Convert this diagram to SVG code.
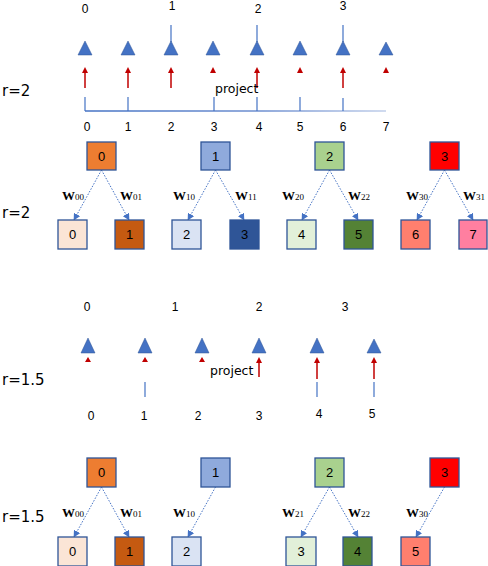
<svg xmlns="http://www.w3.org/2000/svg" width="488" height="566" viewBox="0 0 488 566">
<defs>
<style>
.t{font-family:"Liberation Sans",Arial,sans-serif;font-size:12px;fill:#000}
.big{font-family:"DejaVu Sans",Verdana,sans-serif;font-size:15px;fill:#000}
.proj{font-family:"DejaVu Sans",Verdana,sans-serif;font-size:12.5px;fill:#000}
.bn{font-family:"Liberation Sans",Arial,sans-serif;font-size:13px;fill:#000;text-anchor:middle}
.w{font-family:"Liberation Serif","Times New Roman",serif;font-size:13px;font-weight:bold;fill:#000}
.w tspan{font-size:9px;font-weight:normal}
.tri{fill:#4472C4;stroke:#2F5597;stroke-width:0.5}
.red{stroke:#C00000;stroke-width:1.5;fill:none}
.rh{fill:#C00000}
.bl{stroke:#4472C4;stroke-width:1.2;fill:none}
.box{stroke:#2F5597;stroke-width:1.3}
.con{stroke:#4472C4;stroke-width:1;stroke-dasharray:1.5 1.5;fill:none;marker-end:url(#ah)}
</style>
<marker id="ah" viewBox="0 0 10 10" refX="9" refY="5" markerWidth="7" markerHeight="7" markerUnits="userSpaceOnUse" orient="auto">
<path d="M0,0 L10,5 L0,10 z" fill="#4472C4"/>
</marker>
<linearGradient id="lg" x1="85" y1="0" x2="440" y2="0" gradientUnits="userSpaceOnUse">
<stop offset="0" stop-color="#4472C4"/>
<stop offset="0.5" stop-color="#6E8FD0"/>
<stop offset="1" stop-color="#E4EAF5"/>
</linearGradient>
</defs>

<!-- Section 1: r=2 projection -->
<g id="sec1">
<text class="big" x="2" y="96">r=2</text>
<g class="t" text-anchor="middle">
<text x="85" y="13">0</text><text x="172" y="10">1</text><text x="258" y="13">2</text><text x="343" y="10">3</text>
</g>
<g class="bl">
<line x1="171" y1="25" x2="171" y2="42"/><line x1="257" y1="25" x2="257" y2="42"/><line x1="343" y1="25" x2="343" y2="42"/>
</g>
<g class="tri">
<polygon points="85,41 78,55 92,55"/><polygon points="128,41 121,55 135,55"/><polygon points="171,41 164,55 178,55"/><polygon points="213,41 206,55 220,55"/>
<polygon points="257,41 250,55 264,55"/><polygon points="300,41 293,55 307,55"/><polygon points="343,41 336,55 350,55"/><polygon points="386,42 379,55 393,55"/>
</g>
<g class="red">
<line x1="85" y1="70" x2="85" y2="88"/><line x1="128" y1="70" x2="128" y2="88"/><line x1="171" y1="70" x2="171" y2="88"/><line x1="257" y1="70" x2="257" y2="88"/><line x1="343" y1="70" x2="343" y2="88"/>
</g>
<g class="rh">
<polygon points="85,67 82,73 88,73"/><polygon points="128,67 125,73 131,73"/><polygon points="171,67 168,73 174,73"/><polygon points="213,67 210,73 216,73"/>
<polygon points="257,67 254,73 260,73"/><polygon points="300,67 297,73 303,73"/><polygon points="343,67 340,73 346,73"/><polygon points="386,67 383,73 389,73"/>
</g>
<text class="proj" x="215" y="93">project</text>
<line x1="85" y1="111" x2="386" y2="111" stroke="url(#lg)" stroke-width="1.5"/>
<g class="bl">
<line x1="85" y1="97" x2="85" y2="111"/><line x1="128" y1="97" x2="128" y2="111"/><line x1="214" y1="97" x2="214" y2="111"/><line x1="257" y1="97" x2="257" y2="111"/><line x1="300" y1="97" x2="300" y2="111"/><line x1="343" y1="98" x2="343" y2="111"/>
</g>
<g class="t" text-anchor="middle">
<text x="87" y="131">0</text><text x="128" y="131">1</text><text x="171" y="131">2</text><text x="214" y="131">3</text><text x="259" y="131">4</text><text x="300" y="131">5</text><text x="343" y="131">6</text><text x="386" y="131">7</text>
</g>
</g>

<!-- Section 2: r=2 tree -->
<text class="big" x="2" y="218">r=2</text>
<g id="connectors1">
<line class="con" x1="101.5" y1="170" x2="74" y2="220"/>
<line class="con" x1="101.5" y1="170" x2="129" y2="220"/>
<line class="con" x1="215.5" y1="170" x2="188" y2="220"/>
<line class="con" x1="215.5" y1="170" x2="244" y2="220"/>
<line class="con" x1="329.5" y1="170" x2="302" y2="220"/>
<line class="con" x1="329.5" y1="170" x2="358" y2="220"/>
<line class="con" x1="444.5" y1="170" x2="417" y2="220"/>
<line class="con" x1="444.5" y1="170" x2="473" y2="220"/>
</g>
<g class="w">
<text x="62" y="200">W<tspan>00</tspan></text>
<text x="120" y="200">W<tspan>01</tspan></text>
<text x="173" y="200">W<tspan>10</tspan></text>
<text x="235" y="200">W<tspan>11</tspan></text>
<text x="282" y="200">W<tspan>20</tspan></text>
<text x="348" y="200">W<tspan>22</tspan></text>
<text x="406" y="200">W<tspan>30</tspan></text>
<text x="463" y="200">W<tspan>31</tspan></text>
</g>
<g id="p0a"><rect class="box" x="87" y="142" width="29" height="28" fill="#ED7D31"/><text class="bn" x="101.5" y="161">0</text></g>
<g id="p1a"><rect class="box" x="201" y="142" width="29" height="28" fill="#8FAADC"/><text class="bn" x="215.5" y="161">1</text></g>
<g id="p2a"><rect class="box" x="315" y="142" width="29" height="28" fill="#A9D18E"/><text class="bn" x="329.5" y="161">2</text></g>
<g id="p3a"><rect class="box" x="430" y="142" width="29" height="28" fill="#FF0000"/><text class="bn" x="444.5" y="161">3</text></g>
<g id="c0a"><rect class="box" x="58" y="220" width="29" height="29" fill="#FBE5D6"/><text class="bn" x="72.5" y="239">0</text></g>
<g id="c1a"><rect class="box" x="115" y="220" width="29" height="29" fill="#C55A11"/><text class="bn" x="129.5" y="239">1</text></g>
<g id="c2a"><rect class="box" x="172" y="220" width="29" height="29" fill="#DAE3F3"/><text class="bn" x="186.5" y="239">2</text></g>
<g id="c3a"><rect class="box" x="230" y="220" width="29" height="29" fill="#2F5597"/><text class="bn" x="244.5" y="239">3</text></g>
<g id="c4a"><rect class="box" x="287" y="220" width="29" height="29" fill="#E2F0D9"/><text class="bn" x="301.5" y="239">4</text></g>
<g id="c5a"><rect class="box" x="344" y="220" width="29" height="29" fill="#548235"/><text class="bn" x="358.5" y="239">5</text></g>
<g id="c6a"><rect class="box" x="401" y="220" width="29" height="29" fill="#FF7F6E"/><text class="bn" x="415.5" y="239">6</text></g>
<g id="c7a"><rect class="box" x="459" y="220" width="28" height="29" fill="#FF7FA0"/><text class="bn" x="473" y="239">7</text></g>

<!-- Section 3: r=1.5 projection -->
<g id="sec3">
<text class="big" x="2" y="385">r=1.5</text>
<g class="t" text-anchor="middle">
<text x="87" y="311">0</text><text x="175" y="311">1</text><text x="259" y="311">2</text><text x="345" y="311">3</text>
</g>
<g class="tri">
<polygon points="88,338 81,353 95,353"/><polygon points="145,338 138,353 152,353"/><polygon points="202,338 195,353 209,353"/>
<polygon points="259,338 252,353 266,353"/><polygon points="317,338 310,353 324,353"/><polygon points="374,339 367,353 381,353"/>
</g>
<g class="red">
<line x1="259" y1="360" x2="259" y2="377"/><line x1="317" y1="360" x2="317" y2="379"/><line x1="374" y1="360" x2="374" y2="379"/>
</g>
<g class="rh">
<polygon points="88,357 85,362 91,362"/><polygon points="145,357 142,362 148,362"/><polygon points="202,357 199,362 205,362"/>
<polygon points="259,357 256,363 262,363"/><polygon points="317,357 314,363 320,363"/><polygon points="374,357 371,363 377,363"/>
</g>
<text class="proj" x="210" y="375">project</text>
<g class="bl">
<line x1="145" y1="382" x2="145" y2="397"/><line x1="317" y1="382" x2="317" y2="397"/><line x1="374" y1="382" x2="374" y2="397"/>
</g>
<g class="t" text-anchor="middle">
<text x="91" y="420">0</text><text x="144" y="420">1</text><text x="198" y="420">2</text><text x="259" y="420">3</text><text x="319" y="418">4</text><text x="372" y="418">5</text>
</g>
</g>

<!-- Section 4: r=1.5 tree -->
<text class="big" x="2" y="522">r=1.5</text>
<g id="connectors2">
<line class="con" x1="101.5" y1="487" x2="74" y2="537"/>
<line class="con" x1="101.5" y1="487" x2="129" y2="537"/>
<line class="con" x1="215.5" y1="487" x2="188" y2="537"/>
<line class="con" x1="329.5" y1="487" x2="301" y2="537"/>
<line class="con" x1="329.5" y1="487" x2="358" y2="537"/>
<line class="con" x1="444.5" y1="487" x2="416" y2="537"/>
</g>
<g class="w">
<text x="62" y="517">W<tspan>00</tspan></text>
<text x="120" y="517">W<tspan>01</tspan></text>
<text x="173" y="517">W<tspan>10</tspan></text>
<text x="282" y="517">W<tspan>21</tspan></text>
<text x="348" y="517">W<tspan>22</tspan></text>
<text x="406" y="517">W<tspan>30</tspan></text>
</g>
<g id="p0b"><rect class="box" x="87" y="458" width="29" height="29" fill="#ED7D31"/><text class="bn" x="101.5" y="477">0</text></g>
<g id="p1b"><rect class="box" x="201" y="458" width="29" height="29" fill="#8FAADC"/><text class="bn" x="215.5" y="477">1</text></g>
<g id="p2b"><rect class="box" x="315" y="458" width="29" height="29" fill="#A9D18E"/><text class="bn" x="329.5" y="477">2</text></g>
<g id="p3b"><rect class="box" x="430" y="458" width="29" height="29" fill="#FF0000"/><text class="bn" x="444.5" y="477">3</text></g>
<g id="c0b"><rect class="box" x="58" y="537" width="29" height="29" fill="#FBE5D6"/><text class="bn" x="72.5" y="556">0</text></g>
<g id="c1b"><rect class="box" x="115" y="537" width="29" height="29" fill="#C55A11"/><text class="bn" x="129.5" y="556">1</text></g>
<g id="c2b"><rect class="box" x="172" y="537" width="29" height="29" fill="#DAE3F3"/><text class="bn" x="186.5" y="556">2</text></g>
<g id="c3b"><rect class="box" x="286" y="537" width="30" height="29" fill="#E2F0D9"/><text class="bn" x="301" y="556">3</text></g>
<g id="c4b"><rect class="box" x="343" y="537" width="29" height="29" fill="#548235"/><text class="bn" x="357.5" y="556">4</text></g>
<g id="c5b"><rect class="box" x="401" y="537" width="29" height="29" fill="#FF7F6E"/><text class="bn" x="415.5" y="556">5</text></g>
</svg>
